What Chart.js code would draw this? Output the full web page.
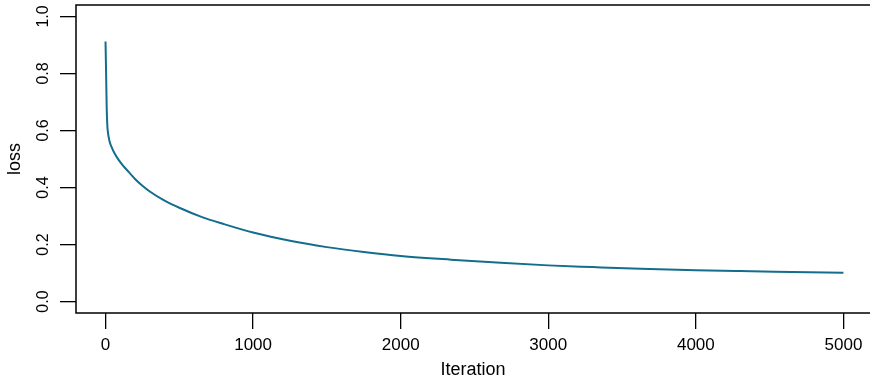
<!DOCTYPE html>
<html>
<head>
<meta charset="utf-8">
<script src="https://cdn.jsdelivr.net/npm/chart.js@4.4.1/dist/chart.umd.min.js"></script>
<style>
  html, body { margin: 0; padding: 0; background: #fff; overflow: hidden; }
  canvas { display: block; }
</style>
</head>
<body>
<canvas id="lossChart" width="870" height="382"></canvas>
<script>
// training loss
const iterations = [0, 4, 8, 12, 16, 22, 30, 45, 60, 90, 120, 160, 200, 250, 300, 400, 500, 650, 800, 1000,
  1250, 1500, 1750, 2000, 2340, 2650, 3000, 3300, 3625, 4000, 4300, 4650, 5000];
const lossValues = [0.912, 0.80, 0.68, 0.62, 0.595, 0.575, 0.557, 0.537, 0.521, 0.496, 0.476, 0.453, 0.430, 0.406, 0.386,
  0.354, 0.329, 0.297, 0.272, 0.242, 0.213, 0.191, 0.174, 0.160, 0.147, 0.137, 0.127, 0.121, 0.115, 0.110,
  0.107, 0.104, 0.101];

const xTicks = [0, 1000, 2000, 3000, 4000, 5000];
const yTicks = [0, 0.2, 0.4, 0.6, 0.8, 1.0];

const lineColor = '#136d8d';
const fontFamily = '"Liberation Sans", Arial, Helvetica, sans-serif';

// R style box; the right side falls just past the picture's edge
const boxPlugin = {
  id: 'box',
  afterDraw(chart) {
    const { ctx, chartArea: a } = chart;
    ctx.save();
    ctx.strokeStyle = '#000';
    ctx.lineWidth = 1.5;
    ctx.beginPath();
    ctx.moveTo(a.right, a.top);
    ctx.lineTo(a.left, a.top);
    ctx.lineTo(a.left, a.bottom);
    ctx.lineTo(a.right, a.bottom);
    ctx.stroke();
    ctx.restore();
  }
};

new Chart(document.getElementById('lossChart'), {
  type: 'line',
  data: {
    datasets: [{
      data: iterations.map((it, i) => ({ x: it, y: lossValues[i] })),
      borderColor: lineColor,
      borderWidth: 2,
      pointRadius: 0,
      cubicInterpolationMode: 'monotone',
      fill: false
    }]
  },
  options: {
    responsive: false,
    animation: false,
    devicePixelRatio: 1,
    layout: { padding: { top: 5, right: 0, left: 0, bottom: 0 } },
    plugins: { legend: { display: false }, tooltip: { enabled: false } },
    scales: {
      x: {
        type: 'linear',
        min: -200,
        max: 5180,
        afterBuildTicks: s => { s.ticks = xTicks.map(v => ({ value: v })); },
        afterFit: s => { s.height = 69; s.paddingLeft = 0; s.paddingRight = 0; },
        border: { display: false },
        grid: { drawOnChartArea: false, drawTicks: true, tickLength: 16, color: '#000', lineWidth: 1.3 },
        ticks: { color: '#000', padding: 6, maxRotation: 0, callback: v => String(v),
          font: { family: fontFamily, size: 17 } },
        title: { display: true, text: 'Iteration', color: '#000', padding: { top: 0, bottom: 1 },
          font: { family: fontFamily, size: 18 } }
      },
      y: {
        min: -0.04,
        max: 1.04,
        afterBuildTicks: s => { s.ticks = yTicks.map(v => ({ value: v })); },
        afterFit: s => { s.width = 76; s.paddingTop = 0; s.paddingBottom = 0; },
        border: { display: false },
        grid: { drawOnChartArea: false, drawTicks: true, tickLength: 16, color: '#000', lineWidth: 1.3 },
        ticks: { color: '#000', padding: 5, minRotation: 90, maxRotation: 90, crossAlign: 'center',
          callback: v => v.toFixed(1), font: { family: fontFamily, size: 16 } },
        title: { display: true, text: 'loss', color: '#000', padding: { top: 4, bottom: 0 },
          font: { family: fontFamily, size: 18 } }
      }
    }
  },
  plugins: [boxPlugin]
});
</script>
</body>
</html>
